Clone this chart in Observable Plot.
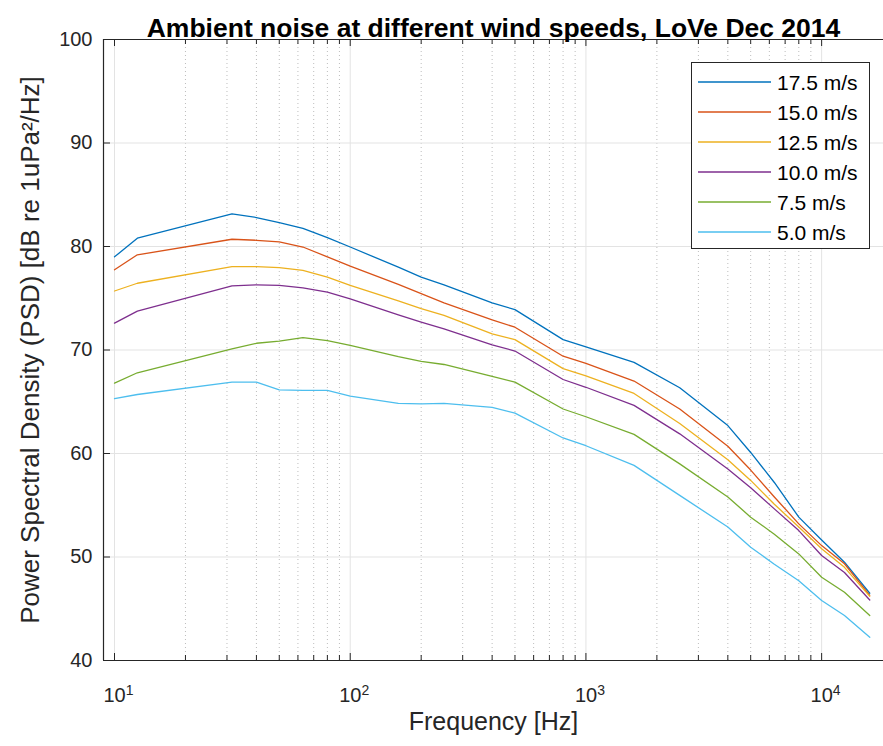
<!DOCTYPE html>
<html><head><meta charset="utf-8">
<script src="https://cdn.jsdelivr.net/npm/d3@7"></script>
<script src="https://cdn.jsdelivr.net/npm/@observablehq/plot@0.6"></script>
<style>
html,body{margin:0;padding:0;background:#fff;}
#chart{width:883px;height:746px;overflow:hidden;}
</style></head><body><div id="chart"></div>
<script>
const frequencies = [10, 12.5, 31.5, 40, 50, 63, 80, 100, 160, 200, 250, 400, 500, 800, 1000, 1600, 2500, 4000, 5000, 6300, 8000, 10000, 12500, 16000];
const windSpeeds = ["17.5 m/s", "15.0 m/s", "12.5 m/s", "10.0 m/s", "7.5 m/s", "5.0 m/s"];
const psd_17_5 = [79.0, 80.8, 83.15, 82.8, 82.3, 81.75, 80.85, 79.95, 78.0, 77.05, 76.3, 74.55, 73.9, 71.0, 70.3, 68.8, 66.35, 62.7, 60.1, 57.2, 53.85, 51.65, 49.5, 46.5];
const psd_15_0 = [77.75, 79.2, 80.7, 80.6, 80.45, 79.95, 79.0, 78.1, 76.35, 75.45, 74.55, 72.9, 72.2, 69.4, 68.7, 67.0, 64.3, 60.7, 58.4, 55.8, 53.2, 51.1, 49.35, 46.3];
const psd_12_5 = [75.7, 76.45, 78.05, 78.05, 77.95, 77.7, 77.05, 76.25, 74.75, 74.0, 73.35, 71.55, 71.0, 68.2, 67.5, 65.8, 62.9, 59.4, 57.4, 55.1, 52.9, 50.8, 49.0, 46.2];
const psd_10_0 = [72.6, 73.75, 76.2, 76.3, 76.25, 76.0, 75.6, 74.95, 73.4, 72.7, 72.05, 70.5, 69.9, 67.15, 66.4, 64.65, 61.9, 58.5, 56.7, 54.65, 52.55, 50.15, 48.5, 45.85];
const psd_7_5 = [66.8, 67.8, 70.1, 70.65, 70.85, 71.2, 70.9, 70.45, 69.35, 68.9, 68.6, 67.45, 66.9, 64.3, 63.55, 61.85, 59.0, 55.8, 53.85, 52.2, 50.3, 48.05, 46.6, 44.35];
const psd_5_0 = [65.3, 65.7, 66.9, 66.9, 66.15, 66.1, 66.1, 65.55, 64.85, 64.8, 64.85, 64.45, 63.9, 61.5, 60.75, 58.85, 55.95, 52.9, 50.95, 49.3, 47.7, 45.8, 44.35, 42.25];
const seriesValues = [psd_17_5, psd_15_0, psd_12_5, psd_10_0, psd_7_5, psd_5_0];
const seriesColors = ["#0072BD", "#D95319", "#EDB120", "#7E2F8E", "#77AC30", "#4DBEEE"];
const yTicks = [40, 50, 60, 70, 80, 90, 100];
const yGrid = [50, 60, 70, 80, 90];
const xMajorTicks = [10, 100, 1000, 10000];
const xTickExponents = ["1", "2", "3", "4"];
const xMinorTicks = [20,30,40,50,60,70,80,90,200,300,400,500,600,700,800,900,2000,3000,4000,5000,6000,7000,8000,9000];
const titleText = "Ambient noise at different wind speeds, LoVe Dec 2014";
const xLabel = "Frequency [Hz]";
const yLabel = "Power Spectral Density (PSD) [dB re 1uPa²/Hz]";
const xDomain = [8.98, 18300];
const yDomain = [40, 100];

const rows = [];
windSpeeds.forEach((s, i) => frequencies.forEach((f, j) => rows.push({speed: s, f, psd: seriesValues[i][j]})));

const font = "'Liberation Sans', Arial, Helvetica, sans-serif";
const axisColor = "#262626";
const tickLenPx = 7;
const pxPerUnitY = 621 / 60;
const tickY = tickLenPx / pxPerUnitY;
const pxPerDecade = 780 / Math.log10(xDomain[1] / xDomain[0]);
const tickXFactor = Math.pow(10, tickLenPx / pxPerDecade);
const minorTickY = 5 / pxPerUnitY;

const chart = Plot.plot({
  width: 883, height: 746,
  marginLeft: 103, marginRight: 0, marginTop: 39, marginBottom: 86,
  style: {fontFamily: font, background: "#fff", color: axisColor},
  x: {type: "log", domain: xDomain},
  y: {domain: yDomain},
  color: {domain: windSpeeds, range: seriesColors},
  marks: [
    Plot.ruleX(xMinorTicks, {stroke: "#bdbdbd", strokeDasharray: "1,3", strokeWidth: 1}),
    Plot.ruleX(xMajorTicks, {stroke: "#e3e3e3", strokeWidth: 1}),
    Plot.ruleY(yGrid, {stroke: "#e3e3e3", strokeWidth: 1}),
    Plot.line(rows, {x: "f", y: "psd", z: "speed", stroke: "speed", strokeWidth: 1.3}),
    Plot.ruleY([yDomain[0]], {stroke: axisColor, strokeWidth: 1.2}),
    Plot.ruleY([yDomain[1]], {stroke: axisColor, strokeWidth: 1}),
    Plot.ruleX([xDomain[0]], {stroke: axisColor, strokeWidth: 1.2}),
    Plot.ruleX(xMajorTicks, {y1: yDomain[0], y2: yDomain[0] + tickY, stroke: axisColor}),
    Plot.ruleX(xMinorTicks, {y1: yDomain[0], y2: yDomain[0] + minorTickY, stroke: axisColor}),
    Plot.ruleX(xMajorTicks, {y1: yDomain[1], y2: yDomain[1] - tickY, stroke: axisColor}),
    Plot.ruleX(xMinorTicks, {y1: yDomain[1], y2: yDomain[1] - minorTickY, stroke: axisColor}),
    Plot.ruleY(yTicks, {x1: xDomain[0], x2: xDomain[0] * tickXFactor, stroke: axisColor}),
    Plot.axisY(yTicks, {tickSize: 0, tickPadding: 11, fontSize: 20, label: null, fill: axisColor}),
    Plot.axisX(xMajorTicks, {tickSize: 0, tickPadding: 27, fontSize: 20, label: null, tickFormat: d => String(d), fill: axisColor}),
    Plot.text([titleText], {frameAnchor: "top", dy: -21, fontSize: 26.5, fontWeight: "bold", fill: "#000", textAnchor: "middle"}),
    Plot.text([xLabel], {frameAnchor: "bottom", dy: 69, fontSize: 25, fill: axisColor, textAnchor: "middle"}),
    Plot.text([yLabel], {frameAnchor: "left", dx: -73, rotate: -90, fontSize: 26, fill: axisColor, textAnchor: "middle"})
  ]
});
document.getElementById("chart").appendChild(chart);

const svg = d3.select(chart.tagName.toLowerCase() === "svg" ? chart : chart.querySelector("svg"));
svg.selectAll('g[aria-label="x-axis tick label"] text').each(function(d, i) {
  const t = d3.select(this);
  const k = xMajorTicks.indexOf(+t.text().replace(/,/g, ""));
  t.text(null);
  t.append("tspan").text("10");
  t.append("tspan").attr("dy", "-0.45em").attr("font-size", "14px").text(xTickExponents[k >= 0 ? k : i]);
  t.attr("dx", "0.2em");
});

const lg = svg.append("g").attr("font-family", font).attr("font-size", 21).attr("text-anchor", "start");
lg.append("rect").attr("x", 691.5).attr("y", 62.5).attr("width", 178).attr("height", 186)
  .attr("fill", "#fff").attr("stroke", axisColor).attr("stroke-width", 1);
windSpeeds.forEach((s, i) => {
  const cy = 82 + i * 30;
  lg.append("line").attr("x1", 698).attr("x2", 771).attr("y1", cy).attr("y2", cy)
    .attr("stroke", seriesColors[i]).attr("stroke-width", 1.3);
  lg.append("text").attr("x", 777).attr("y", cy).attr("dy", "0.36em").attr("text-anchor", "start").attr("fill", "#000").text(s);
});
</script></body></html>
